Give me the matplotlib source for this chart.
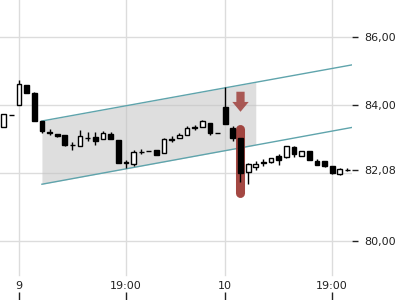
import numpy as np
import matplotlib
matplotlib.use("Agg")
import matplotlib.pyplot as plt
from matplotlib.patches import FancyArrow

# Kerzen (Index = Zeitschritt)
opens = [83.35, 83.70, 84.00, 84.59, 84.34, 83.53, 83.21, 83.15, 83.12, 82.83,
         82.79, 83.03, 83.07, 82.99, 83.14, 82.97, 82.30, 82.26, 82.62, 82.65,
         82.68, 82.58, 82.98, 83.02, 83.12, 83.33, 83.34, 83.48, 83.18, 83.93,
         83.32, 83.02, 82.02, 82.19, 82.30, 82.32, 82.50, 82.46, 82.76, 82.51,
         82.65, 82.35, 82.35, 82.21, 81.96, 82.08]
closes = [83.74, 83.70, 84.62, 84.36, 83.54, 83.24, 83.19, 83.09, 82.82, 82.82,
          83.10, 83.04, 82.94, 83.17, 82.99, 82.29, 82.31, 82.63, 82.63, 82.65,
          82.53, 82.99, 82.99, 83.12, 83.32, 83.34, 83.53, 83.17, 83.18, 83.43,
          83.02, 81.99, 82.26, 82.27, 82.31, 82.43, 82.38, 82.79, 82.56, 82.65,
          82.38, 82.24, 82.22, 81.99, 82.11, 82.08]
highs = [83.74, 83.71, 84.74, 84.60, 84.38, 83.53, 83.29, 83.16, 83.13, 82.91,
         83.27, 83.21, 83.21, 83.24, 83.21, 82.98, 82.38, 82.68, 82.71, 82.65,
         82.68, 83.03, 83.09, 83.18, 83.38, 83.41, 83.56, 83.48, 83.18, 84.54,
         83.38, 83.02, 82.29, 82.35, 82.41, 82.45, 82.56, 82.80, 82.79, 82.66,
         82.66, 82.41, 82.35, 82.21, 82.15, 82.15]
lows = [83.35, 83.70, 84.00, 84.35, 83.53, 83.18, 83.12, 83.07, 82.80, 82.68,
        82.78, 82.94, 82.82, 82.99, 82.99, 82.28, 82.15, 82.22, 82.56, 82.64,
        82.52, 82.58, 82.91, 83.02, 83.12, 83.27, 83.34, 83.12, 83.17, 83.43,
        82.94, 81.75, 81.67, 82.09, 82.21, 82.30, 82.24, 82.45, 82.47, 82.50,
        82.37, 82.23, 82.19, 81.97, 81.95, 82.06]

# Trendkanal
chan_x = [5, 45.6]
chan_top = [83.53, 85.18]
chan_bot = [81.67, 83.34]
fill_end = 33

# Signal (Pfeil + Balken)
sig_x = 31
arrow_top, arrow_tip = 84.39, 83.80
bar_top, bar_bot = 83.43, 81.27

xtick_pos = [2, 16, 29, 43]
xtick_labels = ["9", "19:00", "10", "19:00"]
ytick_pos = [80, 82.08, 84, 86]
ytick_labels = ["80,00", "82,08", "84,00", "86,00"]
grid_y = [80, 82, 84, 86]

o = np.array(opens); c = np.array(closes)
h = np.array(highs); l = np.array(lows)
x = np.arange(len(o))

fig = plt.figure(figsize=(4, 3), dpi=100)
ax = fig.add_axes([0, 0, 0.88, 1])
ax.set_xlim(-0.49, 45.6)
ax.set_ylim(78.265, 87.088)

# Gitter
for gy in grid_y:
    ax.axhline(gy, color="#dcdcdc", lw=1, zorder=0)
for gx in xtick_pos:
    ax.axvline(gx, ymin=0.083, ymax=1, color="#dcdcdc", lw=1, zorder=0)

# Kanal
fx = np.linspace(chan_x[0], fill_end, 20)
ft = np.interp(fx, chan_x, chan_top)
fb = np.interp(fx, chan_x, chan_bot)
ax.fill_between(fx, fb, ft, color="#c4c4c4", alpha=0.55, lw=0, zorder=1)
ax.plot(chan_x, chan_top, color="#5fa4ac", lw=1, zorder=2)
ax.plot(chan_x, chan_bot, color="#5fa4ac", lw=1, zorder=2)

# Signal
ax.plot([sig_x, sig_x], [bar_top - 0.13, bar_bot + 0.13], color="#9c3833",
        alpha=0.92, lw=6.5, solid_capstyle="round", zorder=3)
ax.add_patch(FancyArrow(sig_x, arrow_top, 0, arrow_tip - arrow_top, width=1.08,
                        head_width=2.15, head_length=0.29,
                        length_includes_head=True, color="#a0413c",
                        alpha=0.85, lw=0, zorder=3))

# Kerzen
up = c >= o
ax.vlines(x, l, h, color="black", lw=1, zorder=4)
ax.bar(x, np.abs(c - o), bottom=np.minimum(o, c), width=0.62,
       color=np.where(up, "white", "black"), edgecolor="black", lw=1, zorder=5)

# Achsen
for s in ax.spines.values():
    s.set_visible(False)
ax.yaxis.tick_right()
ax.set_yticks(ytick_pos)
ax.set_yticklabels(ytick_labels)
ax.tick_params(axis="y", direction="out", length=4, width=1, pad=5,
               labelsize=8, colors="#222222")
ax.set_xticks(xtick_pos)
ax.tick_params(axis="x", direction="in", length=6, width=1, labelbottom=False,
               colors="#222222")
for px, lab in zip(xtick_pos, xtick_labels):
    ax.text(px, 0.047, lab, transform=ax.get_xaxis_transform(), ha="center",
            va="center", fontsize=8, color="#222222")

fig.savefig("out.png", dpi=100)
